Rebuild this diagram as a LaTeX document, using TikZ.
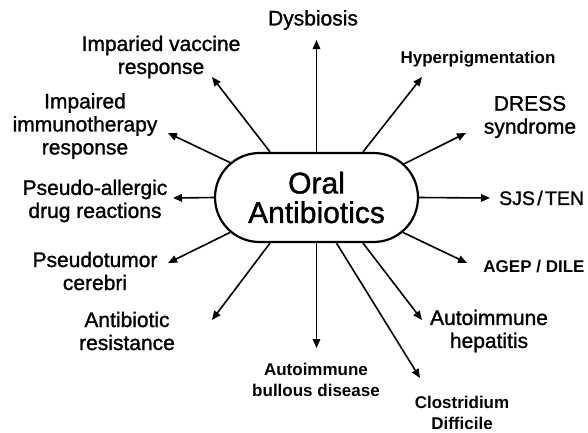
\documentclass[tikz,border=0pt]{standalone}
\usepackage{fontspec}
\setmainfont{Liberation Sans}
\newfontfamily\medfont[FakeBold=1.2]{Liberation Sans}
\usetikzlibrary{shapes.misc,arrows.meta}
\begin{document}
\begin{tikzpicture}[x=1pt,y=-1pt,
  hub/.style={draw,rounded rectangle,line width=2.2pt,minimum width=203pt,minimum height=89pt,inner sep=0pt,align=center,font=\fontsize{30}{29.5}\selectfont\medfont},
  lbl/.style={align=center,inner sep=0pt,font=\fontsize{21}{23}\selectfont\medfont},
  blbl/.style={align=center,inner sep=0pt,font=\fontsize{17}{20.5}\selectfont\bfseries},
  arr/.style={line width=1.6pt,-{Triangle[length=9pt,width=7.5pt]}}]
\useasboundingbox[fill=white] (0,0) rectangle (588,432);
\node[hub] (c) at (316.5,197.5) {Oral\\Antibiotics};
% labels
\node[lbl] (dys) at (313,20) {Dysbiosis};
\node[lbl] (vac) at (161,57) {Imparied vaccine\\response};
\node[lbl] (imm) at (85,126) {Impaired\\immunotherapy\\response};
\node[lbl] (pse) at (95,201) {Pseudo-allergic\\drug reactions};
\node[lbl] (ptc) at (95,271) {Pseudotumor\\cerebri};
\node[lbl] (res) at (127,331) {Antibiotic\\resistance};
\node[blbl] (bul) at (316,380) {Autoimmune\\bullous disease};
\node[blbl] (clo) at (462,413) {Clostridium\\Difficile};
\node[lbl] (hep) at (489,331) {Autoimmune\\hepatitis};
\node[blbl] (agep) at (534,267) {AGEP / DILE};
\node[lbl,anchor=west,font=\fontsize{19.5}{23}\selectfont\medfont] (sjs) at (499,198) {\spaceskip=0.12em SJS / TEN};
\node[lbl] (dress) at (530,117) {DRESS\\syndrome};
\node[blbl] (hyp) at (478,59) {Hyperpigmentation};
% arrow tips
\coordinate (tdys) at (316.5,40);
\coordinate (tvac) at (212,77);
\coordinate (timm) at (168,133);
\coordinate (tpse) at (173,198);
\coordinate (tptc) at (168,263);
\coordinate (tres) at (212,320);
\coordinate (tbul) at (316.5,348);
\coordinate (tclo) at (420,378);
\coordinate (thep) at (422,320);
\coordinate (tagep) at (467,263);
\coordinate (tsjs) at (490,198);
\coordinate (tdress) at (466,133);
\coordinate (thyp) at (422,77);
% connectors
\draw[arr] (c.north) -- (tdys);
\draw[arr] ([xshift=-46.5pt]c.north) -- (tvac);
\draw[arr] (c.158) -- (timm);
\draw[arr] (c.west) -- (tpse);
\draw[arr] (c.202) -- (tptc);
\draw[arr] ([xshift=-46.5pt]c.south) -- (tres);
\draw[arr] (c.south) -- (tbul);
\draw[arr] ([xshift=20pt]c.south) -- (tclo);
\draw[arr] ([xshift=46.5pt]c.south) -- (thep);
\draw[arr] (c.338) -- (tagep);
\draw[arr] (c.east) -- (tsjs);
\draw[arr] (c.21) -- (tdress);
\draw[arr] ([xshift=46.5pt]c.north) -- (thyp);
\end{tikzpicture}
\end{document}
